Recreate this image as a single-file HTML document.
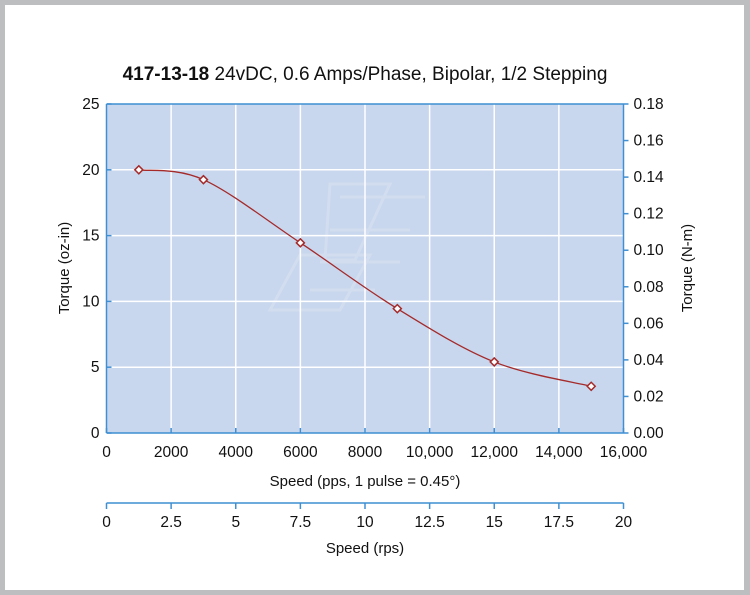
<!DOCTYPE html>
<html><head><meta charset="utf-8"><style>
body{margin:0;background:#bdbec0;}
#frame{position:absolute;left:5px;top:5px;width:739px;height:585px;background:#fff;}
text{font-family:"Liberation Sans",sans-serif;fill:#111;}
</style></head><body>
<div id="frame"></div>
<svg id="chart" width="750" height="595" style="position:absolute;left:0;top:0"></svg>
<script>
const speedsPps=[1000,3000,6000,9000,12000,15000];
const torqueOzIn=[20,19.25,14.45,9.45,5.4,3.55];
const xTicks=[0,2000,4000,6000,8000,10000,12000,14000,16000];
const xTickLabels=["0","2000","4000","6000","8000","10,000","12,000","14,000","16,000"];
const yTicks=[0,5,10,15,20,25];
const y2Ticks=[0,0.02,0.04,0.06,0.08,0.10,0.12,0.14,0.16,0.18];
const rpsTicks=[0,2.5,5,7.5,10,12.5,15,17.5,20];
const rpsLabels=["0","2.5","5","7.5","10","12.5","15","17.5","20"];

const L=106.5,R=623.5,T=104,B=433,RPSY=503;
const NS="http://www.w3.org/2000/svg";
const svg=document.getElementById('chart');
const X=v=>L+(v-0)/16000*(R-L);
const Y=v=>B-v/25*(B-T);
const Y2=v=>B-v/0.18*(B-T);
const XR=v=>L+v/20*(R-L);
function el(tag,attrs,parent){const e=document.createElementNS(NS,tag);for(const k in attrs)e.setAttribute(k,attrs[k]);(parent||svg).appendChild(e);return e;}

const title=el('text',{x:365,y:80,'text-anchor':'middle','font-size':19});


title.innerHTML='<tspan font-weight="bold">417-13-18</tspan> 24vDC, 0.6 Amps/Phase, Bipolar, 1/2 Stepping';

const bg=el('rect',{x:L,y:T,width:R-L,height:B-T,fill:'#c8d7ee'});



// watermark
const wm=el('g',{fill:'none',stroke:'#d6e0f0','stroke-width':3,opacity:0.7});


el('path',{d:'M330 184 L390 184 L355 260 L325 260 Z M300 255 L370 255 L340 310 L270 310 Z M340 197 L425 197 M330 230 L410 230 M320 262 L400 262 M310 290 L375 290'},wm);

xTicks.forEach(v=>{if(v>0&&v<16000){const g=el('line',{x1:X(v),x2:X(v),y1:T,y2:B,stroke:'#fff','stroke-width':1.5});

}});
yTicks.forEach(v=>{if(v>0&&v<25){const g=el('line',{x1:L,x2:R,y1:Y(v),y2:Y(v),stroke:'#fff','stroke-width':1.5});

}});

const ax={stroke:'#3f8fd2','stroke-width':1.5};
el('line',Object.assign({x1:L,x2:L,y1:T,y2:B},ax));
el('line',Object.assign({x1:R,x2:R,y1:T,y2:B},ax));
el('line',Object.assign({x1:L,x2:R,y1:B,y2:B},ax));
el('line',Object.assign({x1:L,x2:R,y1:T,y2:T},ax));

xTicks.forEach((v,i)=>{el('line',Object.assign({x1:X(v),x2:X(v),y1:B,y2:B-5},ax));
const t=el('text',{x:X(v),y:B+24,'text-anchor':'middle','font-size':15.5});t.textContent=xTickLabels[i];

});
yTicks.forEach(v=>{el('line',Object.assign({x1:L,x2:L+5,y1:Y(v),y2:Y(v)},ax));
const t=el('text',{x:L-7,y:Y(v)+5,'text-anchor':'end','font-size':15.5});t.textContent=v;

});
y2Ticks.forEach(v=>{el('line',Object.assign({x1:R,x2:R+5,y1:Y2(v),y2:Y2(v)},ax));
const t=el('text',{x:R+10,y:Y2(v)+5,'font-size':15.5});t.textContent=v.toFixed(2);

});

el('line',Object.assign({x1:L,x2:R,y1:RPSY,y2:RPSY},ax));
rpsTicks.forEach((v,i)=>{el('line',Object.assign({x1:XR(v),x2:XR(v),y1:RPSY,y2:RPSY+6},ax));
const t=el('text',{x:XR(v),y:RPSY+24,'text-anchor':'middle','font-size':15.5});t.textContent=rpsLabels[i];

});

function lab(txt,x,y,rot,name){const t=el('text',{x:x,y:y,'text-anchor':'middle','font-size':15});if(rot)t.setAttribute('transform',`rotate(-90 ${x} ${y})`);t.textContent=txt;

}
lab('Speed (pps, 1 pulse = 0.45°)',365,486,false,'x-axis-title');
lab('Speed (rps)',365,553,false,'rps-axis-title');
lab('Torque (oz-in)',69,268,true,'y-axis-title');
lab('Torque (N-m)',692,268,true,'y2-axis-title');

const pts=speedsPps.map((s,i)=>[X(s),Y(torqueOzIn[i])]);
let d=`M${pts[0][0]} ${pts[0][1]}`;
for(let i=0;i<pts.length-1;i++){const p0=pts[i-1]||pts[i],p1=pts[i],p2=pts[i+1],p3=pts[i+2]||p2;
d+=` C${p1[0]+(p2[0]-p0[0])/6} ${p1[1]+(p2[1]-p0[1])/6} ${p2[0]-(p3[0]-p1[0])/6} ${p2[1]-(p3[1]-p1[1])/6} ${p2[0]} ${p2[1]}`;}
const line=el('path',{d:d,fill:'none',stroke:'#a52a2a','stroke-width':1.3});


pts.forEach(p=>{const m=el('path',{d:`M${p[0]} ${p[1]-4} L${p[0]+4} ${p[1]} L${p[0]} ${p[1]+4} L${p[0]-4} ${p[1]} Z`,fill:'#fff',stroke:'#a52a2a','stroke-width':1.5});

});
</script>
</body></html>
